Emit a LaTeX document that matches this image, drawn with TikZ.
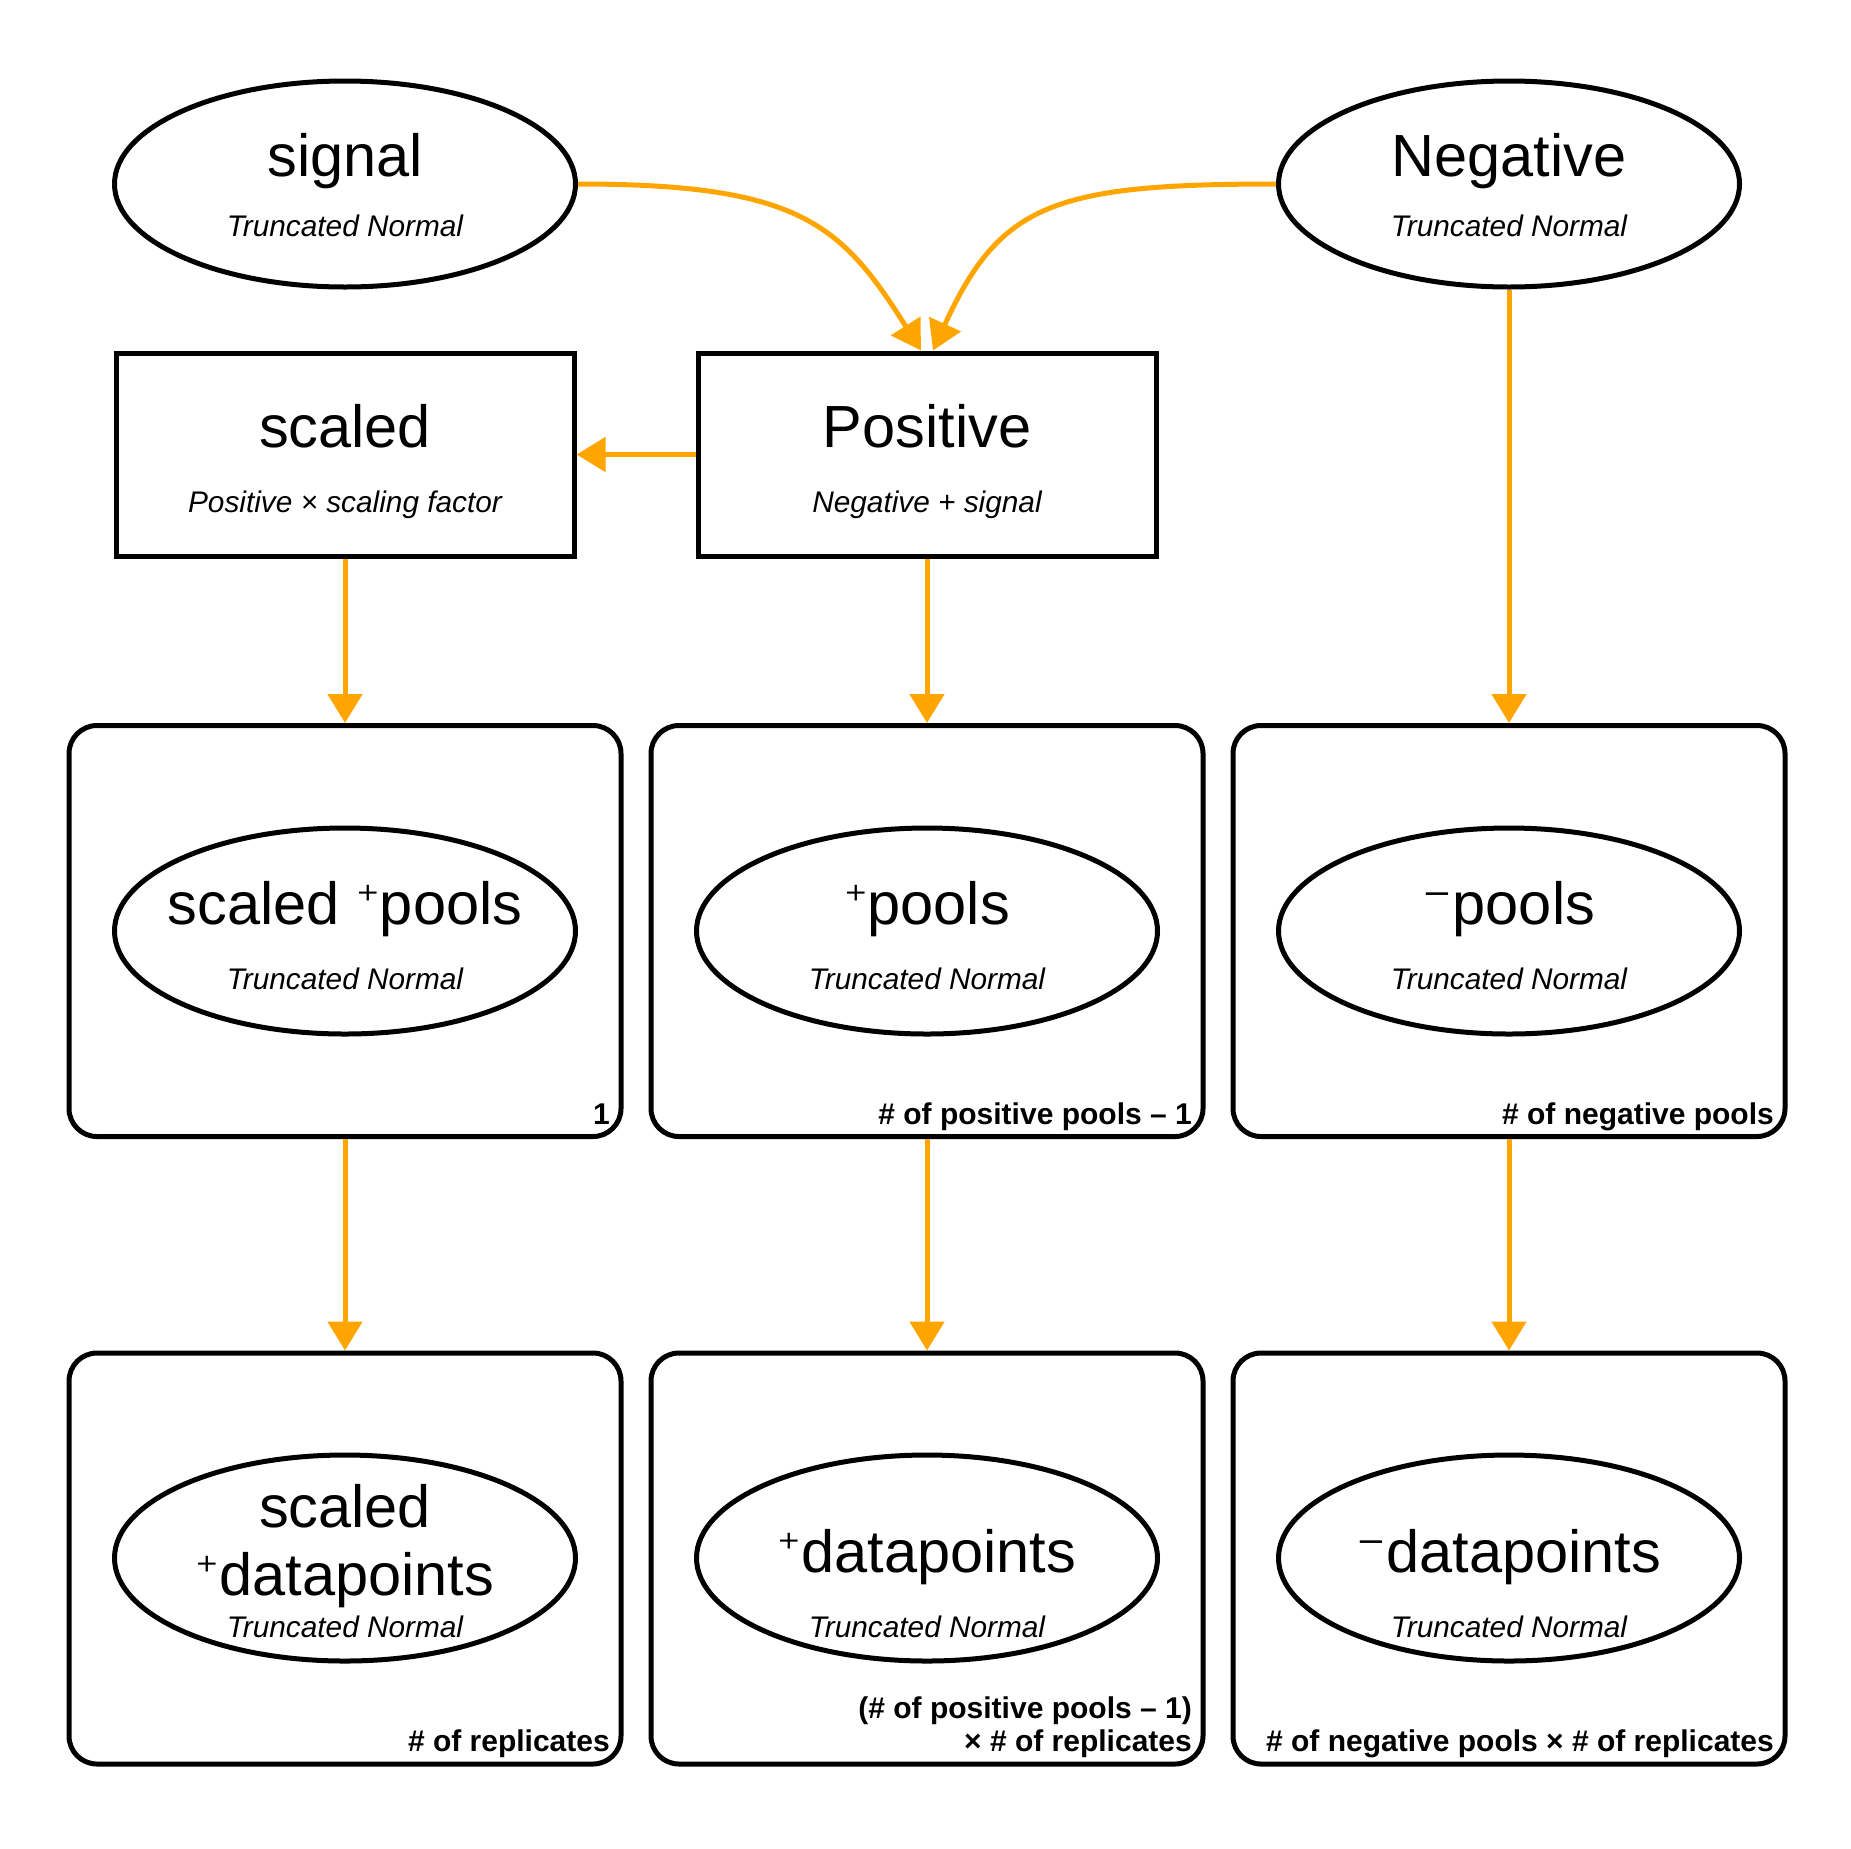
\documentclass[tikz,border=0pt]{standalone}
\usepackage{fontspec}
\setmainfont{Liberation Sans}
\newfontfamily\fbplus{DejaVu Sans}[Scale=0.75]
\newfontfamily\fbminus{DejaVu Sans}[Scale=0.95]
\usetikzlibrary{shapes.geometric,arrows.meta,calc}
\definecolor{edgeorange}{HTML}{FFA500}
\newcommand\supplus{\raisebox{9pt}{\fbplus ⁺}}
\newcommand\supminus{\raisebox{2pt}{\fbminus ⁻}}
\begin{document}
\begin{tikzpicture}[x=1pt,y=-1pt,
  rv/.style={ellipse, draw, line width=5pt, minimum width=461pt, minimum height=206pt, inner sep=0pt},
  det/.style={rectangle, draw, line width=5pt, minimum width=458pt, minimum height=203pt, inner sep=0pt},
  plate/.style={rectangle, draw, line width=5pt, rounded corners=28pt, minimum width=552pt, minimum height=411pt, inner sep=0pt},
  ttl/.style={anchor=base, inner sep=0pt, font=\fontsize{59.5pt}{68pt}\selectfont},
  sub/.style={anchor=base, inner sep=0pt, font=\itshape\fontsize{29.8pt}{34pt}\selectfont},
  plab/.style={anchor=base east, inner sep=0pt, font=\bfseries\fontsize{30pt}{34pt}\selectfont},
  arr/.style={edgeorange, line width=5pt, -{Triangle[length=29pt,width=34pt]}}
]
\path[fill=white] (0,0) rectangle (1851,1848);
\useasboundingbox (0,0) rectangle (1851,1848);

% plates
\node[plate] (plA1) at (345,931) {};
\node[plate] (plB1) at (927,931) {};
\node[plate] (plC1) at (1509,931) {};
\node[plate] (plA2) at (345,1558.5) {};
\node[plate] (plB2) at (927,1558.5) {};
\node[plate] (plC2) at (1509,1558.5) {};

\node[plab] (labA1) at ([xshift=-13.5pt,yshift=15pt]plA1.south east) {1};
\node[plab] (labB1) at ([xshift=-13.5pt,yshift=15pt]plB1.south east) {\# of positive pools – 1};
\node[plab] (labC1) at ([xshift=-13.5pt,yshift=15pt]plC1.south east) {\# of negative pools};
\node[plab] (labA2) at ([xshift=-13.5pt,yshift=15pt]plA2.south east) {\# of replicates};
\node[plab] (labB2a) at ([xshift=-13.5pt,yshift=48.5pt]plB2.south east) {(\# of positive pools – 1)};
\node[plab] (labB2b) at ([xshift=-13.5pt,yshift=15pt]plB2.south east) {× \# of replicates};
\node[plab] (labC2) at ([xshift=-13.5pt,yshift=15pt]plC2.south east) {\# of negative pools × \# of replicates};

% top variables
\node[rv] (signal) at (345,184) {};
\node[ttl] (signalT) at ([yshift=7.5pt]signal.center) {signal};
\node[sub] (signalS) at ([yshift=-52.5pt]signal.center) {Truncated Normal};

\node[rv] (neg) at (1509,184) {};
\node[ttl] (negT) at ([yshift=7.5pt]neg.center) {Negative};
\node[sub] (negS) at ([yshift=-52.5pt]neg.center) {Truncated Normal};

% deterministic
\node[det] (scaled) at (345,454.5) {};
\node[ttl] (scaledT) at ([yshift=7pt]scaled.center) {scaled};
\node[sub] (scaledS) at ([yshift=-57.5pt]scaled.center) {Positive × scaling factor};

\node[det] (pos) at (927,454.5) {};
\node[ttl] (posT) at ([yshift=7pt]pos.center) {Positive};
\node[sub] (posS) at ([yshift=-57.5pt]pos.center) {Negative + signal};

% row 1 ellipses
\node[rv] (spools) at (345,931) {};
\node[ttl] (spoolsT) at ([yshift=7pt]spools.center) {scaled \supplus pools};
\node[sub] (spoolsS) at ([yshift=-58pt]spools.center) {Truncated Normal};

\node[rv] (ppools) at (927,931) {};
\node[ttl] (ppoolsT) at ([yshift=7pt]ppools.center) {\supplus pools};
\node[sub] (ppoolsS) at ([yshift=-58pt]ppools.center) {Truncated Normal};

\node[rv] (npools) at (1509,931) {};
\node[ttl] (npoolsT) at ([yshift=7pt]npools.center) {\supminus pools};
\node[sub] (npoolsS) at ([yshift=-58pt]npools.center) {Truncated Normal};

% row 2 ellipses
\node[rv] (sdata) at (345,1558) {};
\node[ttl] (sdataT1) at ([yshift=31pt]sdata.center) {scaled};
\node[ttl] (sdataT2) at ([yshift=-37pt]sdata.center) {\supplus datapoints};
\node[sub] (sdataS) at ([yshift=-79pt]sdata.center) {Truncated Normal};

\node[rv] (pdata) at (927,1558) {};
\node[ttl] (pdataT) at ([yshift=-14pt]pdata.center) {\supplus datapoints};
\node[sub] (pdataS) at ([yshift=-79pt]pdata.center) {Truncated Normal};

\node[rv] (ndata) at (1509,1558) {};
\node[ttl] (ndataT) at ([yshift=-14pt]ndata.center) {\supminus datapoints};
\node[sub] (ndataS) at ([yshift=-79pt]ndata.center) {Truncated Normal};

% connectors
\draw[arr] (signal.east) .. controls +(221,0) and +(-80,-127) .. ([xshift=-6pt]pos.north);
\draw[arr] (neg.west) .. controls +(-222,0) and +(67,-147) .. ([xshift=6pt]pos.north);
\draw[arr] (pos.west) -- (scaled.east);
\draw[arr] (scaled.south) -- (plA1.north);
\draw[arr] (pos.south) -- (plB1.north);
\draw[arr] (neg.south) -- (plC1.north);
\draw[arr] (plA1.south) -- (plA2.north);
\draw[arr] (plB1.south) -- (plB2.north);
\draw[arr] (plC1.south) -- (plC2.north);
\end{tikzpicture}
\end{document}
